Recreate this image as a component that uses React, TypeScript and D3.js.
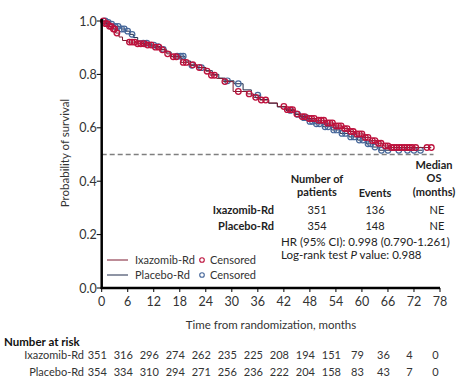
import React from "react";
import * as d3 from "d3";

// Kaplan-Meier steps: [month, survival after the drop]
const ixaSteps: [number, number][] = [
  [0, 1.0], [0.8, 0.99], [1.6, 0.98], [2.4, 0.97], [3.2, 0.955], [4, 0.94], [4.8, 0.927],
  [6, 0.921], [8, 0.915], [10, 0.91], [12, 0.902], [13.5, 0.892], [15, 0.877], [16, 0.866],
  [18.3, 0.845], [20, 0.836], [22, 0.826], [24, 0.812], [25, 0.797], [26.5, 0.785],
  [28, 0.773], [30.3, 0.736], [33.5, 0.727], [35, 0.714], [36.5, 0.704], [38.5, 0.693],
  [40.5, 0.68], [42.5, 0.668], [44.5, 0.652], [45.8, 0.642], [47.5, 0.635], [49.5, 0.628],
  [51.5, 0.618], [53.5, 0.607], [55.5, 0.597], [57, 0.586], [58.5, 0.577], [60.5, 0.564],
  [62, 0.552], [63.5, 0.542], [65, 0.532], [66.5, 0.526],
];
const ixaEnd = 76;

const pboSteps: [number, number][] = [
  [0, 1.0], [1, 0.995], [2, 0.988], [3, 0.98], [4.5, 0.97], [5.5, 0.962], [6.5, 0.95],
  [7.3, 0.938], [8.3, 0.925], [9.2, 0.917], [11, 0.91], [12.3, 0.904], [13.5, 0.894],
  [14.6, 0.884], [16, 0.868], [19.2, 0.85], [20.5, 0.834], [22, 0.825], [24, 0.814],
  [25.5, 0.8], [27, 0.786], [28.5, 0.776], [30.5, 0.765], [32.6, 0.742], [34.5, 0.722],
  [36.5, 0.706], [38.5, 0.692], [40.5, 0.678], [42.5, 0.665], [44.5, 0.65], [46, 0.638],
  [47.5, 0.624], [49, 0.615], [51, 0.604], [53, 0.592], [55, 0.579], [57, 0.566],
  [59, 0.554], [61, 0.54], [62.5, 0.528], [64, 0.516],
];
const pboEnd = 74;

const ixaCensored = [
  0.4, 0.9, 1.3, 1.8, 2.2, 2.7, 3.0, 3.5, 6.4, 7.0, 7.6, 8.3, 9.0, 9.8, 10.6, 11.4, 12.4,
  13.2, 14.0, 15.2, 16.5, 17.2, 18.8, 19.5, 21.0, 22.5, 24.3, 25.3, 26.0, 28.4, 31.5, 34.0,
  35.5, 36.8, 37.8, 42.0, 42.8, 43.5, 44.0, 45.0, 46.2, 46.8, 47.8, 48.4, 49.0, 50.0, 50.6,
  51.2, 52.0, 52.6, 53.2, 54.0, 54.6, 55.2, 56.0, 56.6, 57.4, 58.0, 58.8, 59.4, 60.0, 60.8,
  61.4, 62.4, 63.0, 63.8, 64.4, 65.4, 66.0, 66.8, 67.4, 68.0, 68.6, 69.2, 69.8, 70.4, 71.0,
  71.6, 72.4, 75.0, 76.0,
];
const pboCensored = [
  0.8, 1.5, 2.3, 3.1, 3.8, 4.6, 5.2, 6.0, 7.0, 9.6, 10.4, 12.0, 13.0, 14.2, 17.4, 18.2,
  18.8, 20.8, 23.0, 29.0, 31.5, 36.0, 43.5, 45.2, 46.6, 47.2, 48.0, 48.6, 49.5, 50.2, 51.5,
  52.2, 53.5, 54.2, 55.4, 56.2, 57.4, 58.2, 59.4, 60.2, 61.4, 62.0, 63.0, 64.5, 66.0, 68.5,
  70.5, 72.0, 73.5,
];

const xTicks = [0, 6, 12, 18, 24, 30, 36, 42, 48, 54, 60, 66, 72, 78];
const yTicks = [0, 0.2, 0.4, 0.6, 0.8, 1.0];
const ixaAtRisk = [351, 316, 296, 274, 262, 235, 225, 208, 194, 151, 79, 36, 4, 0];
const pboAtRisk = [354, 334, 310, 294, 271, 256, 236, 222, 204, 158, 83, 43, 7, 0];

const RED_LINE = "#7d1a30";
const BLUE_LINE = "#1e2b4a";
const RED_MARK = "#bd123d";
const BLUE_MARK = "#46679a";
const FONT = "Lato, 'Open Sans', sans-serif";

const x = d3.scaleLinear().domain([0, 78]).range([101.7, 440]);
const y = d3.scaleLinear().domain([0, 1]).range([288, 21]);

function survAt(steps: [number, number][], t: number) {
  let s = 1;
  for (const [st, v] of steps) if (st <= t) s = v;
  return s;
}

function stepPath(steps: [number, number][], end: number) {
  const pts: [number, number][] = steps.map(([t, s]) => [t, s]);
  pts.push([end, steps[steps.length - 1][1]]);
  const line = d3
    .line<[number, number]>()
    .x((d) => x(d[0]))
    .y((d) => y(d[1]))
    .curve(d3.curveStepAfter);
  return line(pts) || "";
}

export default function App() {
  return (
    <svg width={461} height={387} style={{ position: "absolute", left: 0, top: 0, fontFamily: FONT }}>
      <rect width={461} height={387} fill="#fff" />
      {/* median line */}
      <line x1={x(0)} x2={x(76.5)} y1={y(0.5)} y2={y(0.5)} stroke="#7f7f7f" strokeWidth={1.6} strokeDasharray="5,3" />

      {/* curves */}
      <path d={stepPath(pboSteps, pboEnd)} fill="none" stroke={BLUE_LINE} strokeWidth={1} />
      {pboCensored.map((t, i) => (
        <circle key={"p" + i} cx={x(t)} cy={y(survAt(pboSteps, t))} r={2.8} fill="none" stroke={BLUE_MARK} strokeWidth={1.2} />
      ))}
      <path d={stepPath(ixaSteps, ixaEnd)} fill="none" stroke={RED_LINE} strokeWidth={1} />
      {ixaCensored.map((t, i) => (
        <circle key={"i" + i} cx={x(t)} cy={y(survAt(ixaSteps, t))} r={2.8} fill="none" stroke={RED_MARK} strokeWidth={1.3} />
      ))}

      {/* axes */}
      <line x1={x(0)} x2={x(0)} y1={y(0) + 1} y2={y(1) - 2} stroke="#000" strokeWidth={2.5} />
      <line x1={x(0) - 1} x2={x(78)} y1={y(0)} y2={y(0)} stroke="#000" strokeWidth={2.5} />
      {yTicks.map((t) => (
        <g key={t}>
          <line x1={x(0) - 5} x2={x(0)} y1={y(t)} y2={y(t)} stroke="#000" strokeWidth={1} />
          <text x={x(0) - 5} y={y(t) + 4.5} textAnchor="end" fontSize={12.5} fill="#333">
            {t.toFixed(1)}
          </text>
        </g>
      ))}
      {xTicks.map((t) => (
        <g key={t}>
          <line x1={x(t)} x2={x(t)} y1={y(0)} y2={y(0) + 4} stroke="#000" strokeWidth={1} />
          <text x={x(t)} y={y(0) + 18} textAnchor="middle" fontSize={12.5} fill="#333">
            {t}
          </text>
        </g>
      ))}
      <text x={271} y={329} textAnchor="middle" fontSize={11.5} fill="#333">
        Time from randomization, months
      </text>
      <text transform={`translate(69,153) rotate(-90)`} textAnchor="middle" fontSize={11.5} fill="#333">
        Probability of survival
      </text>

      {/* stats table */}
      <g fontSize={11} fill="#222">
        <g fontWeight="bold" textAnchor="middle">
          <text x={317} y={183}>Number of</text>
          <text x={317} y={196}>patients</text>
          <text x={375} y={197}>Events</text>
          <text x={434} y={169}>Median</text>
          <text x={434} y={182}>OS</text>
          <text x={434} y={196}>(months)</text>
        </g>
        <g fontWeight="bold" textAnchor="end">
          <text x={274} y={214}>Ixazomib-Rd</text>
          <text x={274} y={230}>Placebo-Rd</text>
        </g>
        <g textAnchor="middle">
          <text x={317} y={214}>351</text>
          <text x={375} y={214}>136</text>
          <text x={437} y={214}>NE</text>
          <text x={317} y={230}>354</text>
          <text x={375} y={230}>148</text>
          <text x={437} y={230}>NE</text>
        </g>
        <g fontSize={11.5}>
          <text x={281} y={246}>HR (95% CI): 0.998 (0.790-1.261)</text>
          <text x={281} y={259}>
            Log-rank test <tspan fontStyle="italic">P</tspan> value: 0.988
          </text>
        </g>
      </g>

      {/* legend */}
      <g fontSize={11} fill="#333">
        <line x1={107} x2={128} y1={260} y2={260} stroke={RED_LINE} strokeWidth={1} />
        <text x={135} y={264}>Ixazomib-Rd</text>
        <circle cx={202} cy={260} r={2.3} fill="none" stroke={RED_MARK} strokeWidth={1.1} />
        <text x={210} y={264}>Censored</text>
        <line x1={107} x2={128} y1={275} y2={275} stroke={BLUE_LINE} strokeWidth={1} />
        <text x={135} y={279}>Placebo-Rd</text>
        <circle cx={202} cy={275} r={2.3} fill="none" stroke={BLUE_MARK} strokeWidth={1.1} />
        <text x={210} y={279}>Censored</text>
      </g>

      {/* number at risk */}
      <text x={4} y={346} fontSize={11.5} fontWeight="bold" fill="#111">
        Number at risk
      </text>
      <g fontSize={11} fill="#333">
        <text x={84} y={359} textAnchor="end">Ixazomib-Rd</text>
        <text x={84} y={376} textAnchor="end">Placebo-Rd</text>
        {xTicks.map((t, i) => (
          <g key={t} textAnchor="middle">
            <text x={x(t) - 4.5} y={359}>{ixaAtRisk[i]}</text>
            <text x={x(t) - 4.5} y={376}>{pboAtRisk[i]}</text>
          </g>
        ))}
      </g>
    </svg>
  );
}
